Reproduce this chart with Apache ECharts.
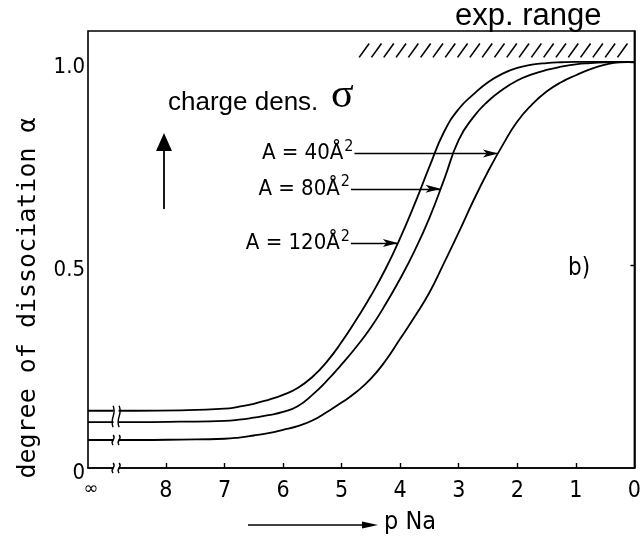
<!DOCTYPE html>
<html>
<head>
<meta charset="utf-8">
<script src="https://cdn.jsdelivr.net/npm/echarts@6/dist/echarts.min.js"></script>
<style>
  html, body { margin: 0; padding: 0; background: #fff; }
  #chart { width: 644px; height: 538px; }
</style>
</head>
<body>
<div id="chart"></div>
<script>
// pNa grid shared by the three curves (9.33 stands for pNa = ∞)
const pNa = [9.33, 8.5, 7.75, 7.0, 6.75, 6.5, 6.25, 6.0, 5.75, 5.5, 5.25, 5.0, 4.75, 4.5, 4.25, 4.0,
             3.75, 3.5, 3.25, 3.0, 2.75, 2.5, 2.25, 2.0, 1.75, 1.5, 1.25, 1.0, 0.75, 0.5, 0.25, 0];

// degree of dissociation α for each head-group area
const alphaA120 = [0.141, 0.141, 0.142, 0.146, 0.151, 0.158, 0.168, 0.180, 0.197, 0.224, 0.262, 0.310,
                   0.365, 0.424, 0.490, 0.566, 0.651, 0.742, 0.828, 0.884, 0.920, 0.950, 0.971, 0.985,
                   0.993, 0.997, 0.999, 1.0, 1.0, 1.0, 1.0, 1.0];
const alphaA80  = [0.113, 0.113, 0.114, 0.116, 0.119, 0.124, 0.130, 0.138, 0.152, 0.180, 0.215, 0.255,
                   0.298, 0.346, 0.403, 0.466, 0.536, 0.616, 0.710, 0.808, 0.864, 0.903, 0.932, 0.954,
                   0.969, 0.980, 0.988, 0.994, 0.997, 0.999, 1.0, 1.0];
const alphaA40  = [0.069, 0.069, 0.070, 0.072, 0.075, 0.080, 0.086, 0.094, 0.103, 0.117, 0.138, 0.161,
                   0.187, 0.220, 0.264, 0.318, 0.373, 0.432, 0.505, 0.580, 0.658, 0.730, 0.795, 0.853,
                   0.895, 0.927, 0.950, 0.967, 0.982, 0.993, 0.999, 1.0];

// curve labels, where their leader starts and where its arrow meets the curve (pNa)
const curveNames = ['A = 40Å', 'A = 80Å', 'A = 120Å'];
const leaderStart = [4.78, 4.84, 4.84];
const leaderTip   = [2.33, 3.31, 4.04];

// axis ticks
const xTickValues = [0, 1, 2, 3, 4, 5, 6, 7, 8];
const xInfinity = 9.33;
const yTickValues = [0, 0.5, 1.0];

// experimental range band (pNa from..to, α from..to) and the axis-break position
const expRangePNa = [4.7, 0.05];
const expRangeAlpha = [1.011, 1.045];
const breakAt = 8.85;

const TECH = "'DejaVu Sans Condensed', 'DejaVu Sans', sans-serif";

function alphaAt(values, p) {
  for (let i = 0; i < pNa.length - 1; i++) {
    const a = pNa[i], b = pNa[i + 1];
    if (p <= a && p >= b) {
      const t = (a - p) / (a - b);
      return values[i] + t * (values[i + 1] - values[i]);
    }
  }
  return values[values.length - 1];
}

function curveSeries(values, idx) {
  const tipAlpha = alphaAt(values, leaderTip[idx]);
  return {
    type: 'line',
    data: pNa.map((p, i) => [p, values[i]]),
    showSymbol: false,
    smooth: 0.5,
    lineStyle: { color: '#000', width: 1.8 },
    z: 4,
    markLine: {
      silent: true,
      animation: false,
      symbol: ['none', 'arrow'],
      symbolSize: [6, 15],
      lineStyle: { color: '#000', width: 1.4, type: 'solid' },
      label: {
        show: true,
        position: 'start',
        distance: 1,
        formatter: '{m|' + curveNames[idx] + '}{s|2}',
        color: '#000',
        rich: {
          m: { fontFamily: TECH, fontSize: 22, color: '#000' },
          s: { fontFamily: TECH, fontSize: 16, color: '#000', verticalAlign: 'top', padding: [0, 0, 13, 1] }
        }
      },
      data: [[{ coord: [leaderStart[idx], tipAlpha] }, { coord: [leaderTip[idx], tipAlpha] }]]
    }
  };
}

const chart = echarts.init(document.getElementById('chart'), null, { renderer: 'canvas' });

chart.setOption({
  animation: false,
  backgroundColor: '#fff',
  grid: {
    left: 88, right: 4, top: 31, bottom: 70,
    show: true, borderColor: '#000', borderWidth: 1.6, backgroundColor: 'transparent'
  },
  xAxis: {
    type: 'value',
    inverse: true,
    min: 0,
    max: xInfinity,
    axisLine: { lineStyle: { color: '#000', width: 1.6 } },
    splitLine: { show: false },
    axisTick: {
      inside: true, length: 5,
      customValues: xTickValues.filter(v => v > 0),
      lineStyle: { color: '#000', width: 1.4 }
    },
    axisLabel: {
      customValues: xTickValues.concat([xInfinity]),
      margin: 12,
      color: '#000',
      fontFamily: TECH,
      fontSize: 23,
      formatter: v => (v > 9 ? '{inf|∞}' : String(v)),
      rich: { inf: { fontFamily: 'DejaVu Sans', fontSize: 18, padding: [0, 0, 8, 6] } }
    }
  },
  yAxis: {
    type: 'value',
    min: 0,
    max: 1.076,
    axisLine: { show: true, lineStyle: { color: '#000', width: 1.6 } },
    splitLine: { show: false },
    axisTick: {
      show: true, inside: false, length: 4,
      customValues: yTickValues.filter(v => v > 0),
      lineStyle: { color: '#000', width: 1.4 }
    },
    axisLabel: {
      customValues: yTickValues,
      margin: 3,
      color: '#000',
      formatter: v => '{v|' + (v === 0 ? '0' : v.toFixed(1)) + '}',
      rich: { v: { fontFamily: TECH, fontSize: 22, color: '#000', padding: [10, 0, 0, 0] } }
    }
  },
  series: [
    curveSeries(alphaA40, 0),
    curveSeries(alphaA80, 1),
    curveSeries(alphaA120, 2),
    {
      // hatched band marking the experimental range
      type: 'custom',
      silent: true,
      z: 3,
      data: [[expRangePNa[0], expRangePNa[1], expRangeAlpha[0], expRangeAlpha[1]]],
      renderItem(params, api) {
        const a = api.coord([api.value(0), api.value(2)]);
        const b = api.coord([api.value(1), api.value(3)]);
        const x0 = Math.min(a[0], b[0]), x1 = Math.max(a[0], b[0]);
        const yTop = Math.min(a[1], b[1]), yBot = Math.max(a[1], b[1]);
        const slant = 10, step = 12.3;
        const children = [];
        for (let x = x0; x + slant <= x1 + 0.5; x += step) {
          children.push({
            type: 'line',
            shape: { x1: x, y1: yBot, x2: x + slant, y2: yTop },
            style: { stroke: '#000', lineWidth: 1.6 }
          });
        }
        return { type: 'group', children };
      }
    },
    {
      // break marks between pNa = ∞ and the finite part of the scale
      type: 'custom',
      silent: true,
      z: 6,
      data: [
        [breakAt, alphaA120[0], alphaA80[0]],
        [breakAt, alphaA40[0], alphaA40[0]],
        [breakAt, 0, 0]
      ],
      renderItem(params, api) {
        const top = api.coord([api.value(0), api.value(1)]);
        const bot = api.coord([api.value(0), api.value(2)]);
        const y1 = top[1] - 5;
        const y2 = bot[1] + 5;
        const cx = top[0];
        const sPath = (x) => ({
          type: 'bezierCurve',
          shape: {
            x1: x, y1: y1, x2: x, y2: y2,
            cpx1: x + 4, cpy1: y1 + (y2 - y1) * 0.45,
            cpx2: x - 4, cpy2: y1 + (y2 - y1) * 0.55
          },
          style: { stroke: '#000', lineWidth: 1.4, fill: null }
        });
        return {
          type: 'group',
          children: [
            { type: 'rect', shape: { x: cx - 2.5, y: y1 + 1, width: 5, height: y2 - y1 - 2 }, style: { fill: '#fff' } },
            sPath(cx - 3),
            sPath(cx + 3)
          ]
        };
      }
    }
  ],
  graphic: [
    {
      type: 'text', left: 455, top: 1, z: 10,
      style: { text: 'exp. range', fontFamily: "'Liberation Sans', Arial, sans-serif", fontSize: 31, fill: '#000' }
    },
    {
      type: 'text', left: 168, top: 90, z: 10,
      style: { text: 'charge dens.', fontFamily: "'Liberation Sans', Arial, sans-serif", fontSize: 26, fill: '#000' }
    },
    {
      type: 'text', left: 331, top: 75, z: 10,
      style: { text: 'σ', fontFamily: "'Liberation Serif', 'Times New Roman', serif", fontSize: 42, fill: '#000' }
    },
    {
      type: 'line', z: 10,
      shape: { x1: 164, y1: 209, x2: 164, y2: 148 },
      style: { stroke: '#000', lineWidth: 1.8 }
    },
    {
      type: 'polygon', z: 10,
      shape: { points: [[156, 151], [172, 151], [164, 133]] },
      style: { fill: '#000' }
    },
    {
      type: 'text', left: 568, top: 257, z: 10,
      style: { text: 'b)', fontFamily: TECH, fontSize: 24, fill: '#000' }
    },
    {
      type: 'text', x: 28, y: 298, rotation: Math.PI / 2, z: 10,
      style: {
        text: 'degree of dissociation α', fontFamily: "'DejaVu Sans Mono', monospace", fontSize: 25,
        fill: '#000', align: 'center', verticalAlign: 'middle'
      }
    },
    {
      type: 'line', z: 10,
      shape: { x1: 248, y1: 525, x2: 366, y2: 525 },
      style: { stroke: '#000', lineWidth: 1.4 }
    },
    {
      type: 'polygon', z: 10,
      shape: { points: [[362, 521.5], [378, 525], [362, 528.5]] },
      style: { fill: '#000' }
    },
    {
      type: 'text', left: 384, top: 510, z: 10,
      style: { text: 'p Na', fontFamily: TECH, fontSize: 25, fill: '#000' }
    }
  ]
});
</script>
</body>
</html>
